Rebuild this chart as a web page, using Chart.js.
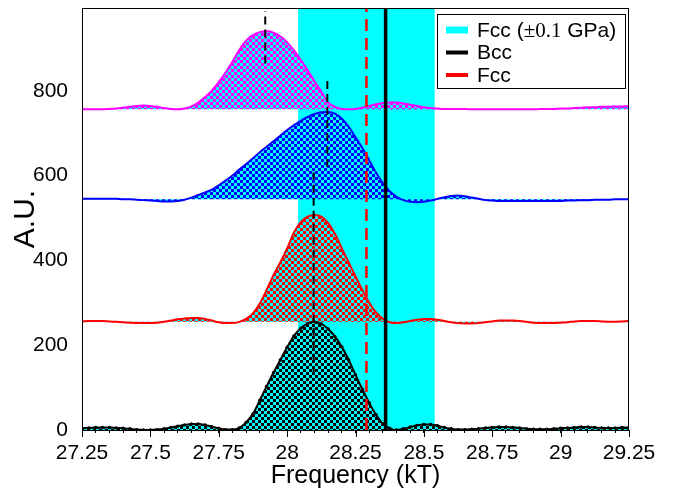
<!DOCTYPE html>
<html>
<head>
<meta charset="utf-8">
<script src="https://cdn.jsdelivr.net/npm/chart.js@4.4.1/dist/chart.umd.min.js"></script>
<style>
  html, body { margin: 0; padding: 0; background: #fff; }
  #wrap { width: 674px; height: 491px; }
</style>
</head>
<body>
<div id="wrap"><canvas id="chart" width="674" height="491"></canvas></div>
<script>
// Frequency grid (kT)
const freqs = [
  27.25, 27.275, 27.3, 27.325, 27.35, 27.375, 27.4, 27.425, 27.45, 27.475,
  27.5, 27.525, 27.55, 27.575, 27.6, 27.625, 27.65, 27.675, 27.7, 27.725,
  27.75, 27.775, 27.8, 27.825, 27.85, 27.875, 27.9, 27.925, 27.95, 27.975,
  28.0, 28.025, 28.05, 28.075, 28.1, 28.125, 28.15, 28.175, 28.2, 28.225,
  28.25, 28.275, 28.3, 28.325, 28.35, 28.375, 28.4, 28.425, 28.45, 28.475,
  28.5, 28.525, 28.55, 28.575, 28.6, 28.625, 28.65, 28.675, 28.7, 28.725,
  28.75, 28.775, 28.8, 28.825, 28.85, 28.875, 28.9, 28.925, 28.95, 28.975,
  29.0, 29.025, 29.05, 29.075, 29.1, 29.125, 29.15, 29.175, 29.2, 29.225,
  29.25
];

// Spectra (already offset)
const blackCurve = [
  4, 5, 6, 6, 6, 5, 4, 3, 1, 0,
  0, 1, 3, 6, 9, 12, 14, 14, 12, 8,
  4, 1, 1, 5, 18, 38, 70, 103, 135, 165,
  195, 222, 240, 251, 255, 250, 238, 220, 196, 165,
  130, 96, 64, 36, 15, 4, 0, 3, 7, 11,
  13, 13, 10, 6, 3, 1, 1, 2, 3, 5,
  6, 7, 7, 6, 5, 3, 2, 2, 2, 3,
  4, 5, 6, 7, 7, 6, 5, 5, 5, 6,
  6
];
const redCurve = [
  256, 257, 257, 257, 256, 255, 254, 253, 252, 252,
  252, 253, 255, 258, 261, 263, 264, 264, 262, 258,
  254, 252, 252, 255, 262, 275, 298, 330, 365, 395,
  428, 466, 490, 503, 507, 503, 488, 462, 428, 395,
  362, 330, 300, 277, 262, 254, 252, 254, 257, 260,
  262, 262, 260, 257, 254, 252, 251, 251, 252, 254,
  256, 258, 258, 258, 257, 255, 253, 252, 252, 252,
  253, 254, 256, 257, 257, 257, 256, 255, 255, 256,
  257
];
const blueCurve = [
  545, 545, 545, 545, 545, 545, 544, 544, 543, 542,
  541, 540, 539, 539, 540, 543, 548, 554, 560, 567,
  577, 588, 600, 614, 627, 641, 655, 668, 681, 694,
  707, 719, 729, 738, 745, 749, 750, 746, 734, 715,
  690, 665, 636, 607, 582, 563, 550, 542, 538, 537,
  538, 541, 545, 549, 552, 553, 551, 548, 545, 542,
  541, 540, 540, 540, 540, 540, 540, 540, 540, 540,
  540, 541, 541, 542, 542, 543, 543, 543, 544, 544,
  544
];
const magentaCurve = [
  756, 756, 756, 756, 757, 758, 760, 762, 764, 765,
  764, 762, 759, 757, 756, 758, 763, 772, 785, 800,
  820, 843, 868, 896, 918, 931, 938, 940, 937, 928,
  914, 895, 872, 848, 822, 798, 772, 762, 757, 756,
  757, 760, 764, 768, 771, 772, 772, 770, 767, 764,
  761, 759, 758, 757, 757, 757, 757, 756, 756, 756,
  756, 756, 756, 756, 756, 756, 756, 757, 757, 757,
  758, 758, 759, 760, 761, 761, 762, 762, 763, 763,
  764
];
const baselines = [0, 255, 544, 756];

// Peak markers: [freq, from, to]
const peakMarks = [
  [28.097, 130, 608],
  [28.147, 620, 828],
  [27.92, 864, 988]
];

const fccBand = [28.04, 28.54];
const bccFreq = 28.36;
const fccFreq = 28.29;

const xTickLabels = [27.25, 27.5, 27.75, 28, 28.25, 28.5, 28.75, 29, 29.25];
const yTickLabels = [0, 200, 400, 600, 800];
const legendLabels = ['Fcc (\u00b10.1 GPa)', 'Bcc', 'Fcc'];
const legendColors = ['#00ffff', '#000000', '#ff0000'];

const Y_MAX = 995;
const CYAN = '#00ffff';

function checker(color) {
    const c = document.createElement('canvas');
    c.width = 6;
    c.height = 6;
    const g = c.getContext('2d');
    g.fillStyle = CYAN;
    g.fillRect(0, 0, 6, 6);
    g.fillStyle = color;
    g.fillRect(0, 0, 3, 3);
    g.fillRect(3, 3, 3, 3);
    return g.createPattern(c, 'repeat');
}

function toPoints(ys) {
    return freqs.map((f, i) => ({ x: f, y: ys[i] }));
}

function spectrum(ys, color, base, withDots) {
    return {
        data: toPoints(ys),
        borderColor: color,
        borderWidth: 2,
        backgroundColor: checker(color),
        fill: { value: base },
        cubicInterpolationMode: 'monotone',
        pointRadius: withDots ? 1.7 : 0,
        pointBackgroundColor: color,
        pointBorderWidth: 0,
        order: 2
    };
}

function vline(x, y0, y1, color, width, dash) {
    return {
        data: [{ x: x, y: y0 }, { x: x, y: y1 }],
        borderColor: color,
        borderWidth: width,
        borderDash: dash,
        pointRadius: 0,
        fill: false,
        order: 0
    };
}

const datasets = [
    {
        data: [{ x: fccBand[0], y: Y_MAX }, { x: fccBand[1], y: Y_MAX }],
        borderWidth: 0,
        backgroundColor: CYAN,
        fill: 'origin',
        pointRadius: 0,
        order: 10
    },
    spectrum(blackCurve, '#000000', baselines[0], true),
    spectrum(redCurve, '#ff0000', baselines[1], false),
    spectrum(blueCurve, '#0000ff', baselines[2], false),
    spectrum(magentaCurve, '#ff00ff', baselines[3], false),
    vline(fccFreq, 0, Y_MAX, '#ff0000', 2.5, [12, 7]),
    vline(bccFreq, 0, Y_MAX, '#000000', 3.5, []),
    ...peakMarks.map(p => vline(p[0], p[1], p[2], '#000000', 2, [8, 5]))
];

// Frame, longer major ticks and the legend box
const decorations = {
    id: 'decorations',
    afterDraw(chart) {
        const { ctx, chartArea } = chart;
        const xs = chart.scales.x;
        ctx.save();
        ctx.strokeStyle = '#000';
        ctx.lineWidth = 1;
        ctx.strokeRect(chartArea.left + 0.5, chartArea.top + 0.5,
            chartArea.right - chartArea.left - 1, chartArea.bottom - chartArea.top);
        xTickLabels.forEach(v => {
            const px = Math.round(xs.getPixelForValue(v)) + 0.5;
            ctx.beginPath();
            ctx.moveTo(px, xs.top);
            ctx.lineTo(px, xs.top + 7);
            ctx.stroke();
        });

        // legend
        const x0 = chartArea.right - 192;
        const y0 = chartArea.top + 6;
        ctx.fillStyle = '#fff';
        ctx.fillRect(x0, y0, 188, 74);
        ctx.strokeRect(x0 + 0.5, y0 + 0.5, 188, 74);
        legendLabels.forEach((label, i) => {
            const y = y0 + 16 + i * 22.5;
            ctx.strokeStyle = legendColors[i];
            ctx.lineWidth = i === 0 ? 7 : 4;
            ctx.beginPath();
            ctx.moveTo(x0 + 9, y);
            ctx.lineTo(x0 + 31, y);
            ctx.stroke();
            ctx.fillStyle = '#000';
            ctx.textBaseline = 'middle';
            let tx = x0 + 40;
            label.split(/(\u00b10\.1)/).forEach(part => {
                ctx.font = part.startsWith('\u00b1')
                    ? '21px "Liberation Serif", "Times New Roman", serif'
                    : '21px "Liberation Sans", Arial, sans-serif';
                ctx.fillText(part, tx, y + 1);
                tx += ctx.measureText(part).width;
            });
        });
        ctx.restore();
    }
};

Chart.defaults.font.family = '"Liberation Sans", Arial, sans-serif';
Chart.defaults.color = '#000';

new Chart(document.getElementById('chart'), {
    type: 'line',
    data: { datasets: datasets },
    options: {
        responsive: false,
        animation: false,
        events: [],
        layout: { padding: { top: 8, right: 45, left: 0, bottom: 0 } },
        plugins: {
            legend: { display: false },
            tooltip: { enabled: false }
        },
        scales: {
            x: {
                type: 'linear',
                min: 27.25,
                max: 29.25,
                afterFit: (scale) => { scale.height = 61; },
                grid: { drawOnChartArea: false, tickLength: 3, color: '#000' },
                border: { color: '#000', width: 1 },
                ticks: {
                    stepSize: 0.05,
                    autoSkip: false,
                    maxRotation: 0,
                    padding: 8,
                    font: { size: 21 },
                    callback: (v) => xTickLabels.some(t => Math.abs(t - v) < 1e-6) ? String(+v.toFixed(2)) : ''
                },
                title: {
                    display: true,
                    text: 'Frequency (kT)',
                    font: { size: 25, lineHeight: 1 },
                    padding: { top: 0, bottom: 2 }
                }
            },
            y: {
                min: 0,
                max: Y_MAX,
                afterFit: (scale) => {
                    scale.width = 82;
                    scale.paddingTop = 0;
                    scale.paddingBottom = 0;
                },
                afterBuildTicks: (scale) => {
                    scale.ticks = yTickLabels.map(v => ({ value: v }));
                },
                grid: { display: false },
                border: { display: true, color: '#000', width: 1 },
                ticks: {
                    autoSkip: false,
                    padding: 6,
                    font: { size: 21 },
                    callback: (v) => String(v)
                },
                title: {
                    display: true,
                    text: 'A.U.',
                    font: { size: 30 },
                    padding: { top: 8, bottom: 0 }
                }
            }
        }
    },
    plugins: [decorations]
});
</script>
</body>
</html>
